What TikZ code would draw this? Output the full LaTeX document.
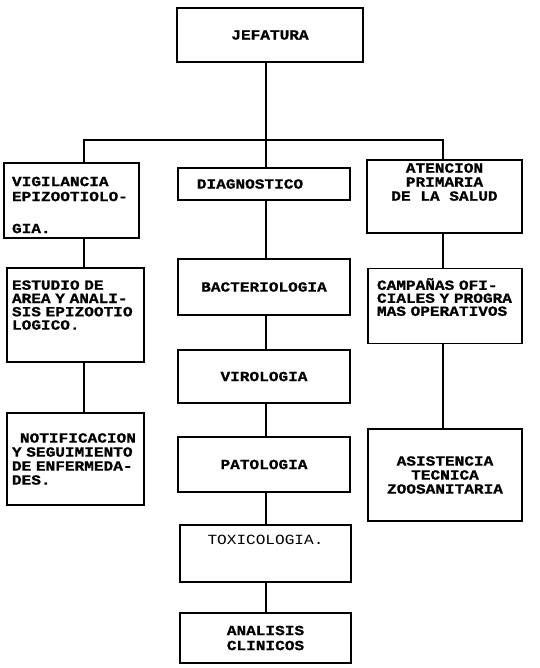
\documentclass[tikz,border=0pt]{standalone}
\usepackage{fontspec}
\setmonofont[FakeStretch=1.15,BoldFeatures={FakeBold=1}]{Liberation Mono}

\def\barY{140}

\begin{document}
\begin{tikzpicture}[x=1pt,y=-1pt,line width=1.6pt]
    \tikzstyle{box}=[draw,rectangle,inner sep=0pt,font=\ttfamily\bfseries\fontsize{14pt}{14pt}\selectfont]
    \tikzstyle{mid box}=[box,align=center,minimum width=172pt]
    \tikzstyle{left box}=[box,align=left,text width=127pt,minimum width=137pt]
    \tikzstyle{right box}=[box,align=center,minimum width=154pt]

    \useasboundingbox (0,0) rectangle (539,668);

    % Draw the head node
    \node[mid box,minimum width=186pt,minimum height=54pt] (jef) at (270,35) {JEFATURA};

    % Draw the left column
    \node[left box,text width=119pt,minimum width=135pt,minimum height=75pt,
          font=\ttfamily\bfseries\fontsize{14pt}{15pt}\selectfont] (vig) at (71.5,200.5)
        {\mbox{}\\[3.4pt]VIGILANCIA\\EPIZOOTIOLO-\\[17pt]GIA.};
    \node[left box,minimum height=94pt,
          font=\ttfamily\bfseries\fontsize{14pt}{13.3pt}\selectfont] (est) at (75.5,315)
        {ESTUDIO DE\\AREA Y ANALI-\\SIS EPIZOOTIO\\LOGICO.\\[6.7pt]\mbox{}};
    \node[left box,minimum height=92pt] (notif) at (75.5,459)
        {\hspace*{8pt}NOTIFICACION\\Y SEGUIMIENTO\\DE ENFERMEDA-\\DES.};

    % Draw the middle column
    \node[mid box,minimum height=32pt] (diag) at (264,184) {DIAGNOSTICO\hspace*{28pt}};
    \node[mid box,minimum height=56pt] (bact) at (264,287) {BACTERIOLOGIA};
    \node[mid box,minimum height=53pt] (viro) at (264,376.5) {VIROLOGIA};
    \node[mid box,minimum height=55pt] (pato) at (264,464.5) {PATOLOGIA};
    \node[mid box,minimum width=171pt,minimum height=57pt,text height=8pt,text depth=26pt,
          font=\ttfamily\mdseries\fontsize{14pt}{14pt}\selectfont] (toxi) at (265.5,553.5) {TOXICOLOGIA.};
    \node[mid box,minimum width=171pt,minimum height=50pt,
          font=\ttfamily\bfseries\fontsize{14pt}{15pt}\selectfont] (anal) at (265.5,638) {ANALISIS\\CLINICOS};

    % Draw the right column
    \node[right box,minimum width=155pt,minimum height=73pt] (aten) at (444.5,196.5)
        {ATENCION\\PRIMARIA\\DE LA SALUD\\[15pt]\mbox{}};
    \node[box,align=left,text width=136pt,minimum width=154pt,minimum height=75pt,
          font=\ttfamily\bfseries\fontsize{14pt}{13pt}\selectfont] (camp) at (445,306)
        {CAMPAÑAS OFI-\\CIALES Y PROGRA\\MAS OPERATIVOS\\[5pt]\mbox{}};
    \node[right box,minimum height=92pt] (asis) at (445,475)
        {ASISTENCIA\\TECNICA\\ZOOSANITARIA};

    % The bar under the head
    \coordinate (bar) at (266,\barY);
    \coordinate (lcol) at (84,\barY);
    \coordinate (rcol) at (443,\barY);
    \draw (jef.south -| bar) -- (bar);
    \draw (lcol |- vig.north) -- (lcol) -- (rcol) -- (rcol |- aten.north);
    \draw (bar) -- (bar |- diag.north);

    % Connect the boxes of every column
    \foreach \a/\b in {vig/est,est/notif}
        \draw (lcol |- \a.south) -- (lcol |- \b.north);
    \foreach \a/\b in {diag/bact,bact/viro,viro/pato,pato/toxi,toxi/anal}
        \draw (bar |- \a.south) -- (bar |- \b.north);
    \foreach \a/\b in {aten/camp,camp/asis}
        \draw (rcol |- \a.south) -- (rcol |- \b.north);
\end{tikzpicture}
\end{document}
